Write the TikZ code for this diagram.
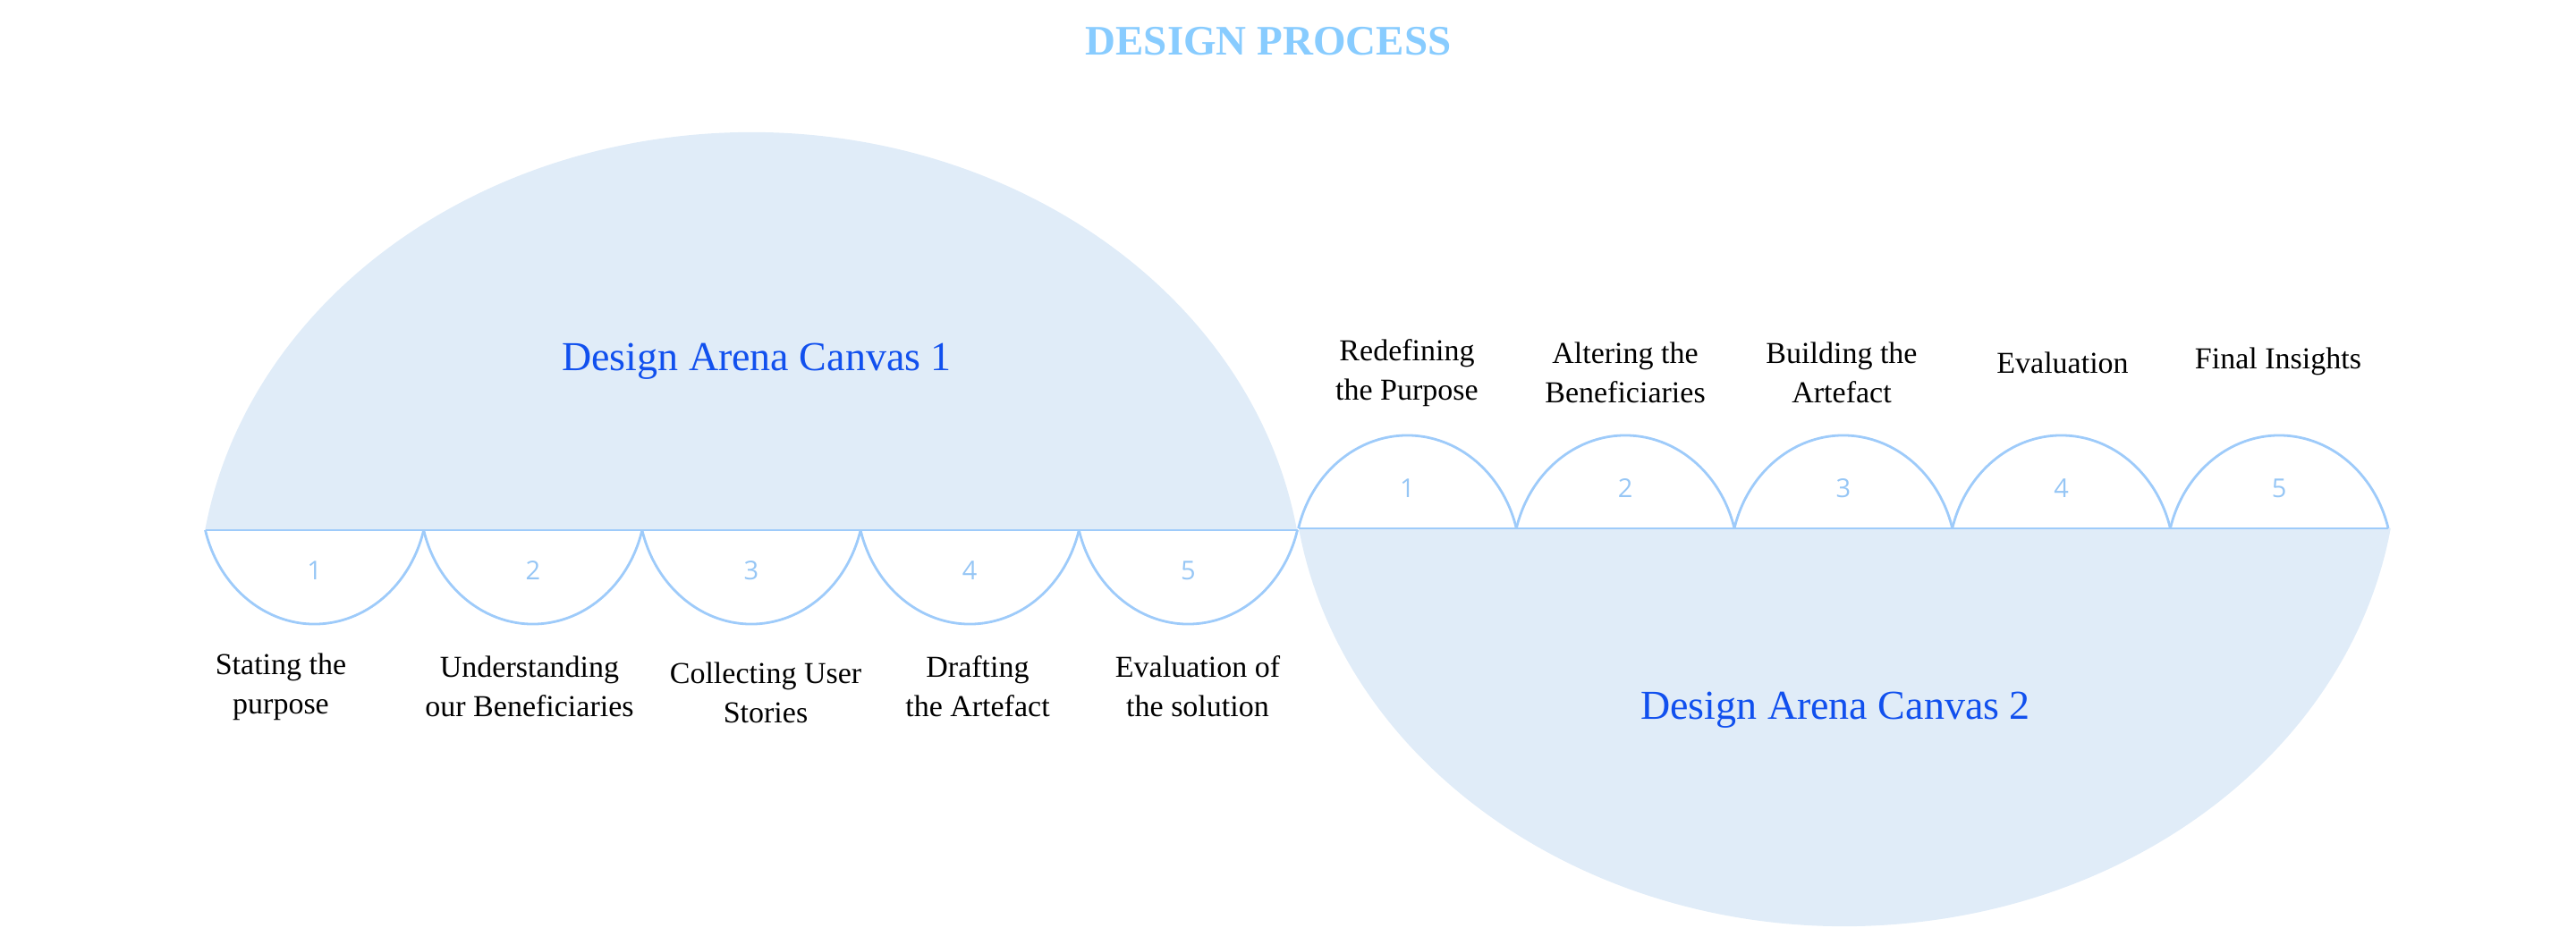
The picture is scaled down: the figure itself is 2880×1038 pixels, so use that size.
\documentclass[tikz,border=0pt]{standalone}
\usepackage{fontspec}
\setmainfont{Liberation Serif}
\newfontfamily\numfont{Open Sans}
\definecolor{canvasfill}{RGB}{224,236,248}
\definecolor{arcline}{RGB}{158,203,250}
\definecolor{numcol}{RGB}{150,198,245}
\definecolor{titlecol}{RGB}{136,204,255}
\definecolor{canvastext}{RGB}{17,80,238}
\begin{document}
\begin{tikzpicture}[x=1pt,y=1pt,
  lbl/.style={align=center, font=\fontsize{34}{44}\selectfont, text=black, inner sep=0pt},
  num/.style={font=\numfont\fontsize{29}{32}\selectfont, text=numcol, inner sep=0pt},
  cname/.style={font=\fontsize{46}{50}\selectfont, text=canvastext, inner sep=0pt},
  titlestyle/.style={font=\bfseries\fontsize{47}{52}\selectfont, text=titlecol, inner sep=0pt},
  arcstroke/.style={draw=arcline, line width=2.8pt, line join=round}]
\useasboundingbox (0,0) rectangle (2880,1038);

% big canvases
\fill[canvasfill] (1450,445) arc[start angle=9, end angle=171, x radius=618pt, y radius=527.6pt] -- cycle;
\fill[canvasfill] (1452,447) arc[start angle=189, end angle=351, x radius=618pt, y radius=527.6pt] -- cycle;

% canvas 1 steps (downward arcs)
\foreach \i in {0,...,4}{
  \draw[arcstroke] ({229.5+244.2*\i},445) arc[start angle=195, end angle=345, x radius=126.4pt, y radius=141.7pt];
}
\draw[arcstroke] (229.5,445) -- (1450.5,445);

% canvas 2 steps (upward arcs)
\foreach \i in {0,...,4}{
  \draw[arcstroke] ({1451.6+243.7*\i},447) arc[start angle=165, end angle=15, x radius=126.15pt, y radius=140.3pt];
}
\draw[arcstroke] (1451.6,447) -- (2670,447);

% numbers
\foreach \i [count=\n] in {0,...,4}{
  \node[num] (a\n) at ({351.6+244.2*\i},400) {\n};
  \node[num] (b\n) at ({1573.45+243.7*\i},492) {\n};
}

% title
\node[titlestyle] (title) at (1418,992) {DESIGN PROCESS};

% canvas names
\node[cname] (c1) at (846,634) {Design Arena Canvas 1};
\node[cname] (c2) at (2052,244) {Design Arena Canvas 2};

% canvas 1 labels
\node[lbl] (l1) at (314,270) {Stating the\\purpose};
\node[lbl] (l2) at (592,270) {Understanding\\our Beneficiaries};
\node[lbl] (l3) at (856,263) {Collecting User\\Stories};
\node[lbl] (l4) at (1093,270) {Drafting\\the Artefact};
\node[lbl] (l5) at (1339,270) {Evaluation of\\the solution};

% canvas 2 labels
\node[lbl] (r1) at (1573,621) {Redefining\\the Purpose};
\node[lbl] (r2) at (1817,621) {Altering the\\Beneficiaries};
\node[lbl] (r3) at (2059,621) {Building the\\Artefact};
\node[lbl] (r4) at (2306,632) {Evaluation};
\node[lbl] (r5) at (2547,634) {Final Insights};
\end{tikzpicture}
\end{document}
